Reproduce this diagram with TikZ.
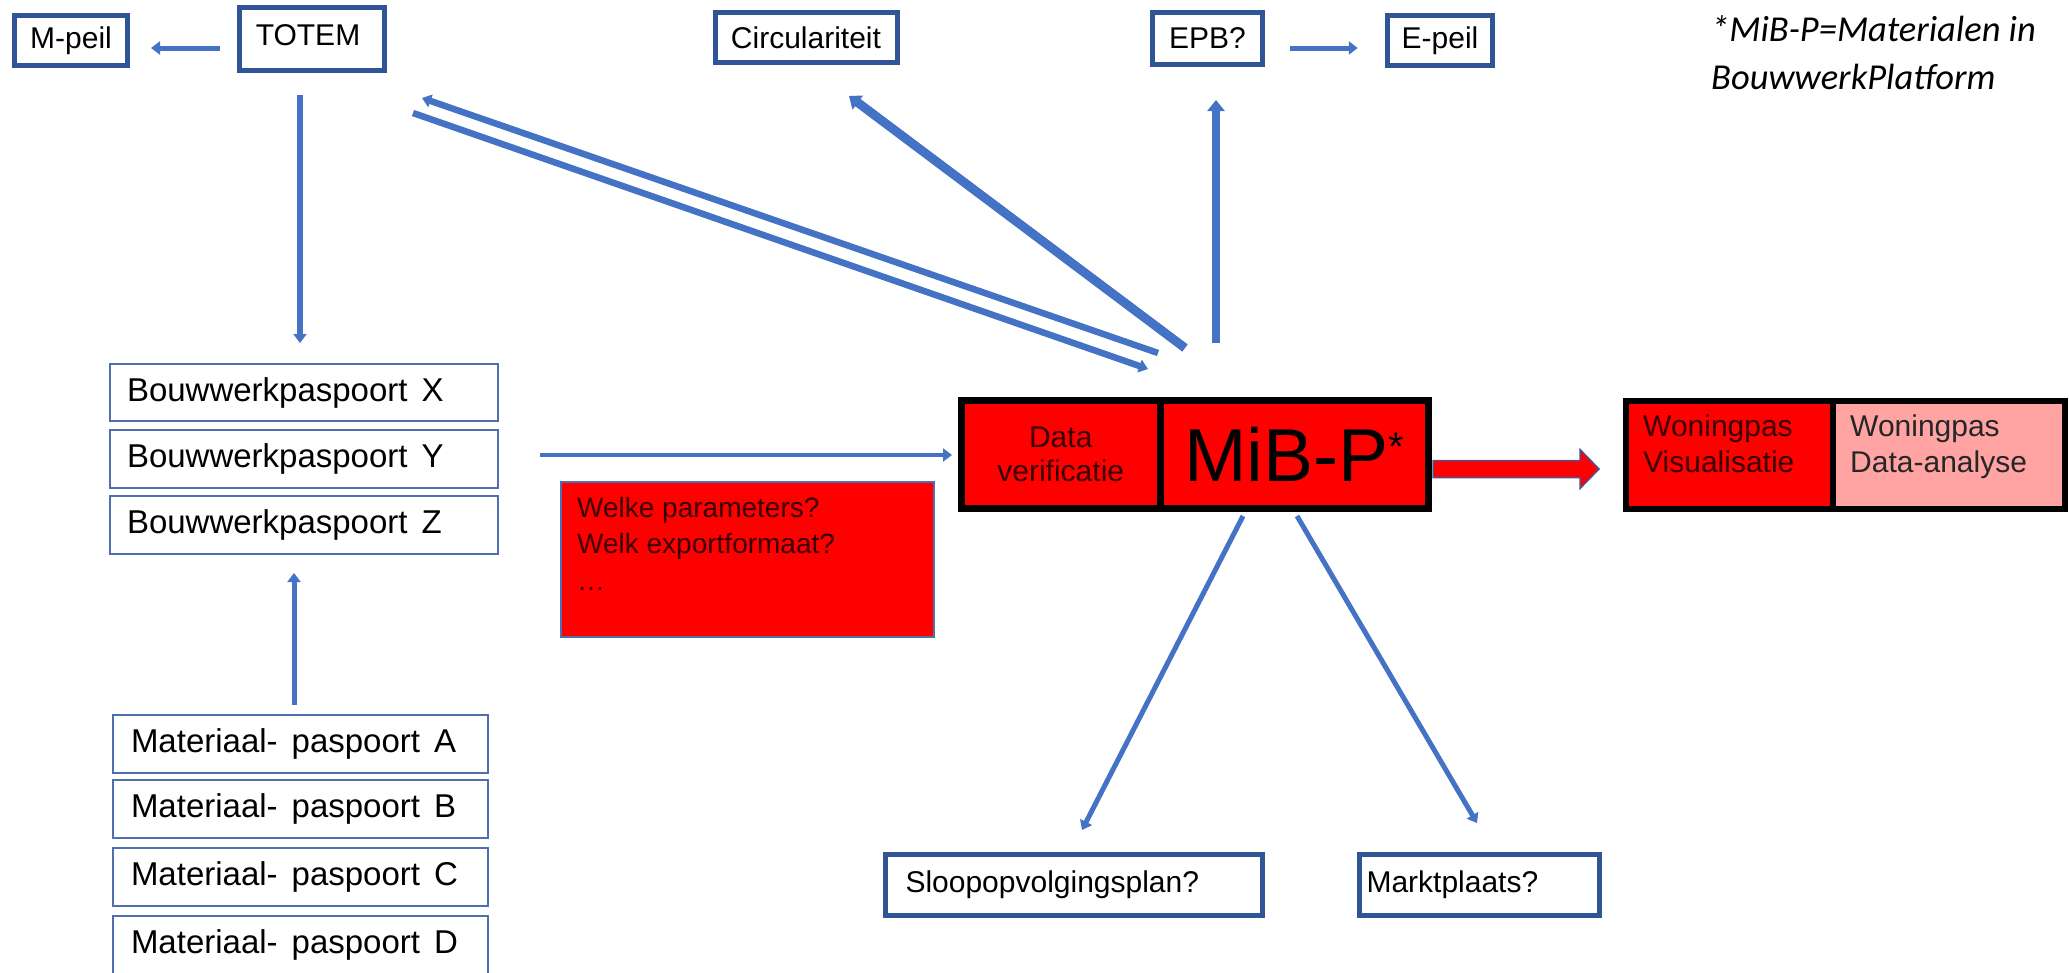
\documentclass[tikz,border=0pt]{standalone}
\usepackage{fontspec}
\setmainfont{Liberation Sans}
\newfontfamily\notefont{Carlito}
\usetikzlibrary{arrows.meta}
\definecolor{boxblue}{HTML}{2F5597}
\definecolor{arrblue}{HTML}{4472C4}
\definecolor{thinblue}{HTML}{4F6FB0}
\definecolor{mypink}{HTML}{FFA3A3}
\definecolor{darktext}{HTML}{3A0000}
\definecolor{arrowedge}{HTML}{50508F}
\begin{document}
\begin{tikzpicture}[x=1pt,y=-1pt,
  thickbox/.style={draw=boxblue, line width=5pt, fill=white, inner sep=0pt, font=\fontsize{30}{36}\selectfont},
  thinbox/.style={draw=thinblue, line width=2pt, fill=white, inner ysep=0pt, font=\fontsize{33}{40}\selectfont, align=left},
  redblock/.style={draw=black, line width=7pt, fill=red, inner sep=0pt, minimum height=108pt},
  wonblock/.style={draw=black, line width=6pt, inner sep=0pt, minimum height=108pt},
  blocktext/.style={anchor=north west, inner sep=0pt, align=left, font=\fontsize{30}{36}\selectfont, text=darktext},
  arr/.style={draw=arrblue, line width=#1, -{Triangle[length=9pt,width=13pt]}},
  bigarr/.style={draw=arrblue, line width=#1, -{Triangle[length=11pt,width=17pt]}}
]
\useasboundingbox (0,0) rectangle (2069,972);
\fill[white] (0,0) rectangle (2069,972);

% top row
\node[thickbox, minimum width=113pt, minimum height=50pt] (mpeil) at (71,40.5) {M-peil};
\node[thickbox, minimum width=145pt, minimum height=63pt, text height=21pt, text depth=8pt] (totem) at (312,39) {TOTEM\hspace*{8pt}};
\node[thickbox, minimum width=182pt, minimum height=50pt] (circ) at (806,37.5) {Circulariteit};
\node[thickbox, minimum width=110pt, minimum height=52pt] (epb) at (1207.5,38.5) {EPB?};
\node[thickbox, minimum width=105.5pt, minimum height=50pt] (epeil) at (1440,40.5) {E-peil};

\node[anchor=north west, inner sep=0pt, align=left, font=\notefont\itshape\fontsize{36.5}{48}\selectfont] (note) at (1711,15) {*MiB-P=Materialen in\\BouwwerkPlatform};

% Bouwwerkpaspoort boxes
\node[thinbox, minimum height=57pt, inner xsep=17pt, text width=354pt] (bwx) at (304,392.5) {Bouwwerkpaspoort\hspace{14pt}X};
\node[thinbox, minimum height=58pt, inner xsep=17pt, text width=354pt] (bwy) at (304,459) {Bouwwerkpaspoort\hspace{14pt}Y};
\node[thinbox, minimum height=58pt, inner xsep=17pt, text width=354pt] (bwz) at (304,525) {Bouwwerkpaspoort\hspace{14pt}Z};

% Materiaalpaspoort boxes
\node[thinbox, minimum height=58pt, inner xsep=18pt, text width=339pt] (mata) at (300.5,744) {Materiaal-\hspace{14pt}paspoort\hspace{14pt}A};
\node[thinbox, minimum height=58pt, inner xsep=18pt, text width=339pt] (matb) at (300.5,809) {Materiaal-\hspace{14pt}paspoort\hspace{14pt}B};
\node[thinbox, minimum height=58pt, inner xsep=18pt, text width=339pt] (matc) at (300.5,877) {Materiaal-\hspace{14pt}paspoort\hspace{14pt}C};
\node[thinbox, minimum height=58pt, inner xsep=18pt, text width=339pt] (matd) at (300.5,945) {Materiaal-\hspace{14pt}paspoort\hspace{14pt}D};

% Welke box
\node[draw=thinblue, line width=2pt, fill=red, minimum width=373pt, minimum height=155pt, inner sep=0pt] (welke) at (747.5,559.5) {};
\node[anchor=north west, inner sep=0pt, align=left, font=\fontsize{28}{36.5}\selectfont, text=darktext] (welketxt) at (577,497) {Welke parameters?\\Welk exportformaat?\\\ldots};

% MiB-P block
\node[redblock, minimum width=198.5pt, align=center, font=\fontsize{30}{34}\selectfont, text=darktext] (dataver) at (1060.75,454.5) {Data\\verificatie};
\node[redblock, minimum width=268.5pt, font=\fontsize{75}{80}\selectfont] (mibp) at (1294.25,454.5) {MiB-P{\fontsize{40}{40}\selectfont\raisebox{21pt}{*}}};

% Woningpas block
\node[wonblock, fill=red, minimum width=207pt] (wonvis) at (1729.5,455) {};
\node[wonblock, fill=mypink, minimum width=232pt] (wondata) at (1949,455) {};
\node[blocktext] (wonvistxt) at (1643,415) {Woningpas\\Visualisatie};
\node[blocktext, text=black!85] (wondatatxt) at (1850,415) {Woningpas\\Data-analyse};

% bottom boxes
\node[thickbox, minimum height=61pt, inner xsep=20pt, text width=337pt, align=left] (sloop) at (1074,885) {Sloopopvolgingsplan?};
\node[thickbox, minimum height=61pt, inner xsep=7pt, text width=226pt, align=left] (markt) at (1479.5,885) {Marktplaats?};

% free connector ends
\coordinate (upS) at (1158,353);
\coordinate (upE) at (422,98);
\coordinate (loS) at (413,113);
\coordinate (loE) at (1148,369);
\coordinate (cS) at (1185,348);
\coordinate (cE) at (849,96);
\coordinate (eS) at (1216,343);
\coordinate (eE) at (1216,100);
\coordinate (sS) at (1243,516);
\coordinate (sE) at (1082,830);
\coordinate (mS) at (1297,516);
\coordinate (mE) at (1477,823);

% connectors
\draw[arr=5pt, shorten <=17pt, shorten >=21pt] (totem.west |- 0,48) -- (mpeil.east |- 0,48);
\draw[arr=6pt, shorten <=22pt, shorten >=20pt] ([xshift=-12pt]totem.south) -- ([xshift=-12pt]totem.south |- bwx.north);
\draw[arr=5pt, shorten <=9pt, shorten >=18pt] ([xshift=-6.5pt]mata.north) -- ([xshift=-6.5pt]mata.north |- bwz.south);
\draw[arr=4.5pt, shorten <=41pt, shorten >=6pt] ([yshift=4pt]bwy.east) -- ([yshift=4pt]bwy.east -| dataver.west);
\draw[arr=5pt, shorten <=25pt, shorten >=27pt] (epb.east |- 0,48) -- (epeil.west |- 0,48);

\draw[arr=6.5pt] (upS) -- (upE);
\draw[arr=6.5pt] (loS) -- (loE);
\draw[bigarr=9pt] (cS) -- (cE);
\draw[bigarr=8.5pt] (eS) -- (eE);
\draw[arr=5pt] (sS) -- (sE);
\draw[arr=5pt] (mS) -- (mE);

% red block arrow from MiB-P to Woningpas
\draw[draw=arrowedge, line width=1.5pt, fill=red]
  ([yshift=-6pt]mibp.east) ++(1,0) -- ++(147,0) -- ++(0,-11) -- ++(19,19.5) -- ++(-19,19.5) -- ++(0,-11) -- ++(-147,0) -- cycle;
\end{tikzpicture}
\end{document}
